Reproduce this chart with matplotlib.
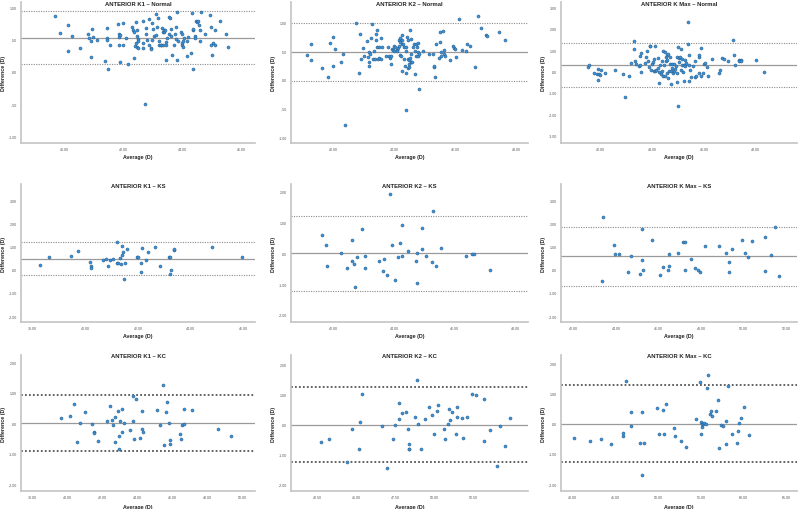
import matplotlib
matplotlib.use("Agg")
import matplotlib.pyplot as plt
import numpy as np
from matplotlib.ticker import FuncFormatter

plt.rcParams['font.family'] = ['Liberation Sans', 'DejaVu Sans']

# ---- data (average, difference) ----
k1_normal_avg = [39.69, 39.85, 40.12, 40.12, 40.27, 40.54, 40.82, 40.83, 40.90, 40.93, 40.91, 40.99, 41.11,
                 41.40, 41.47, 41.46, 41.47, 41.48, 41.54, 41.82, 41.85, 41.85, 41.85, 41.89, 41.90, 41.98,
                 41.99, 42.09, 42.16, 42.31, 42.34, 42.36, 42.36, 42.39, 42.43, 42.45, 42.47, 42.47, 42.47,
                 42.49, 42.51, 42.51, 42.66, 42.66, 42.67, 42.78, 42.79, 42.81, 42.87, 42.89, 42.93, 42.94,
                 42.97, 42.99, 43.01, 43.04, 43.10, 43.11, 43.15, 43.19, 43.21, 43.22, 43.27, 43.30, 43.33,
                 43.34, 43.35, 43.37, 43.39, 43.43, 43.44, 43.46, 43.47, 43.49, 43.54, 43.57, 43.60, 43.63,
                 43.64, 43.66, 43.71, 43.75, 43.79, 43.80, 43.82, 43.84, 43.87, 43.97, 43.98, 44.00, 44.00,
                 44.02, 44.03, 44.07, 44.16, 44.17, 44.19, 44.29, 44.35, 44.36, 44.36, 44.38, 44.42, 44.44,
                 44.47, 44.49, 44.53, 44.58, 44.61, 44.62, 44.63, 44.76, 44.96, 44.97, 44.98, 45.01, 45.06,
                 45.11, 45.12, 45.28, 45.48, 45.56, 42.73]
k1_normal_diff = [0.86, 0.60, 0.72, 0.32, 0.55, 0.37, 0.58, 0.53, 0.48, 0.66, 0.23, 0.54, 0.49,
                  0.17, 0.68, 0.53, 0.49, 0.05, 0.41, 0.74, 0.58, 0.54, 0.42, 0.57, 0.15, 0.76,
                  0.42, 0.52, 0.12, 0.70, 0.65, 0.62, 0.22, 0.40, 0.77, 0.45, 0.39, 0.64, 0.55,
                  0.51, 0.47, 0.37, 0.44, 0.37, 0.79, 0.68, 0.58, 0.50, 0.42, 0.81, 0.37, 0.35,
                  0.50, 0.76, 0.66, 0.55, 0.57, 0.90, 0.70, 0.84, 0.42, 0.48, 0.41, 0.42, 0.68,
                  0.41, 0.61, 0.62, 0.65, 0.64, 0.46, 0.41, 0.19, 0.52, 0.59, 0.85, 0.84, 0.66,
                  0.55, 0.26, 0.41, 0.59, 0.51, 0.69, 0.93, 0.19, 0.47, 0.62, 0.42, 0.58, 0.44,
                  0.47, 0.38, 0.52, 0.47, 0.24, 0.54, 0.29, 0.91, 0.65, 0.04, 0.66, 0.56, 0.52,
                  0.79, 0.77, 0.78, 0.72, 0.64, 0.48, 0.92, 0.58, 0.88, 0.70, 0.41, 0.26, 0.45,
                  0.64, 0.42, 0.78, 0.58, 0.38, -0.49]

k2_normal_avg = [41.13, 41.28, 41.28, 41.64, 41.84, 41.88, 41.99, 41.99, 42.05, 42.26, 42.32, 42.39, 42.75,
                 42.84, 42.86, 42.90, 42.98, 43.01, 43.10, 43.14, 43.16, 43.17, 43.18, 43.19, 43.23, 43.27,
                 43.29, 43.33, 43.37, 43.40, 43.41, 43.43, 43.43, 43.48, 43.50, 43.51, 43.56, 43.58, 43.60,
                 43.73, 43.78, 43.83, 43.87, 43.88, 43.89, 43.93, 43.96, 43.99, 44.00, 44.04, 44.08, 44.10,
                 44.13, 44.15, 44.17, 44.19, 44.20, 44.20, 44.22, 44.24, 44.26, 44.27, 44.27, 44.30, 44.31,
                 44.33, 44.35, 44.38, 44.39, 44.39, 44.40, 44.42, 44.44, 44.45, 44.46, 44.48, 44.49, 44.50,
                 44.51, 44.52, 44.54, 44.55, 44.56, 44.59, 44.62, 44.64, 44.68, 44.69, 44.70, 44.71, 44.73,
                 44.77, 44.78, 44.79, 44.81, 44.82, 44.95, 45.14, 45.28, 45.30, 45.32, 45.33, 45.37, 45.46,
                 45.49, 45.50, 45.53, 45.55, 45.61, 45.62, 45.64, 45.66, 45.84, 45.93, 45.97, 45.98, 46.03,
                 46.12, 46.23, 46.36, 46.40, 46.49, 46.64, 46.75, 46.86, 47.02, 47.04, 47.44, 47.65]
k2_normal_diff = [0.43, 0.62, 0.34, 0.20, 0.06, 0.64, 0.75, 0.24, 0.54, 0.32, 0.46, -0.79, 0.99,
                  0.12, 0.81, 0.36, 0.56, 0.42, 0.68, 0.40, 0.31, 0.24, 0.48, 0.45, 0.73, 0.97,
                  0.37, 0.51, 0.37, 0.81, 0.70, 0.58, 0.88, 0.37, 0.57, 0.38, 0.37, 0.74, 0.57,
                  0.42, 0.58, 0.42, 0.39, 0.28, 0.41, 0.54, 0.52, 0.59, 0.51, 0.58, 0.52, 0.51,
                  0.56, 0.69, 0.60, 0.74, 0.67, 0.43, 0.41, 0.79, 0.62, 0.69, 0.16, 0.63, 0.37,
                  0.57, 0.24, 0.51, 0.12, -0.52, 0.58, 0.75, 0.69, 0.20, 0.36, 0.22, 0.35, 0.27,
                  0.88, 0.38, 0.45, 0.71, 0.31, 0.31, 0.57, 0.63, 0.50, 0.11, 0.41, 0.63, 0.57,
                  0.64, 0.48, 0.41, 0.45, -0.16, 0.51, 0.45, 0.45, 0.22, 0.25, 0.06, 0.63, 0.38,
                  0.84, 0.67, 0.48, 0.41, 0.85, 0.52, 0.45, 0.42, 0.34, 0.60, 0.56, 0.54, 0.40,
                  1.07, 0.52, 0.51, 0.63, 0.59, 0.22, 1.11, 0.90, 0.79, 0.76, 0.83, 0.69]

kmax_normal_avg = [41.51, 41.56, 41.74, 41.87, 41.90, 41.91, 41.94, 41.97, 42.03, 42.18, 42.55, 42.86, 42.96,
                   43.09, 43.16, 43.30, 43.31, 43.35, 43.39, 43.47, 43.51, 43.52, 43.56, 43.57, 43.71, 43.77,
                   43.78, 43.84, 43.86, 43.90, 43.92, 43.96, 43.99, 44.03, 44.05, 44.06, 44.09, 44.12, 44.16,
                   44.21, 44.23, 44.25, 44.27, 44.31, 44.32, 44.36, 44.39, 44.42, 44.43, 44.45, 44.48, 44.51,
                   44.52, 44.55, 44.56, 44.57, 44.58, 44.60, 44.61, 44.65, 44.68, 44.70, 44.73, 44.74, 44.77,
                   44.78, 44.82, 44.83, 44.86, 44.88, 44.91, 44.94, 44.95, 44.96, 44.99, 45.00, 45.03, 45.05,
                   45.08, 45.12, 45.13, 45.14, 45.16, 45.18, 45.21, 45.23, 45.26, 45.27, 45.31, 45.38, 45.39,
                   45.42, 45.43, 45.44, 45.47, 45.49, 45.56, 45.64, 45.66, 45.71, 45.79, 45.81, 45.82, 45.87,
                   45.90, 45.96, 46.00, 46.03, 46.13, 46.16, 46.30, 46.58, 46.64, 46.68, 46.78, 46.92, 47.12,
                   47.18, 47.21, 47.34, 47.36, 47.42, 47.45, 48.01, 48.32]
kmax_normal_diff = [0.21, 0.30, -0.08, -0.11, 0.10, -0.39, -0.13, -0.16, 0.05, -0.08, 0.05, -0.11, -1.18,
                    -0.20, 0.41, 1.05, 1.43, 0.49, 0.33, 0.26, 0.72, 0.30, 0.85, -0.03, 0.39, 0.66,
                    0.95, 0.51, 0.21, 1.18, 1.21, 0.05, 0.36, 0.46, 0.03, 0.57, 0.03, 1.18, 0.05,
                    0.62, 0.16, -0.54, -0.03, 0.30, -0.11, 0.49, 0.02, 0.98, -0.23, 0.31, -0.23, 0.93,
                    0.70, 0.48, 0.56, -0.05, 0.79, 0.84, -0.31, 0.03, 0.34, 0.69, -0.57, 0.02, 0.36,
                    0.15, -0.07, 0.36, 0.03, 0.13, 0.26, 0.69, -0.05, -0.51, 1.13, -1.62, 0.46, 0.62,
                    0.70, 0.07, 1.03, 0.57, 0.30, -0.03, -0.46, 0.30, 0.56, 0.26, 0.38, 2.31, 1.30,
                    0.79, 0.30, -0.44, 0.05, -0.25, 0.25, -0.26, 0.49, -0.20, 0.70, 0.79, -0.07, 1.10,
                    -0.20, -0.08, 0.33, 0.38, 0.21, -0.21, 0.57, -0.08, 0.08, 0.64, 0.59, 0.49, 1.49,
                    0.79, 0.31, 0.56, 0.49, 0.54, 0.51, 0.52, 0.00]

k1_ks_avg = [38.27, 38.61, 39.47, 39.72, 40.19, 40.20, 40.20, 40.68, 40.78, 40.86, 40.92, 41.06, 41.19, 41.22,
             41.25, 41.30, 41.34, 41.38, 41.41, 41.42, 41.46, 41.52, 41.59, 41.95, 41.99, 42.10, 42.13, 42.14,
             42.29, 42.38, 42.66, 42.82, 43.18, 43.22, 43.20, 43.24, 43.38, 43.38, 44.82, 45.96]
k1_ks_diff = [0.20, 0.55, 0.62, 0.84, 0.35, 0.15, 0.09, 0.45, 0.46, 0.15, 0.45, 0.46, 1.20, 0.28,
              0.30, 0.53, 0.26, 0.66, 1.04, 0.78, -0.38, 0.31, 0.92, 0.54, 0.54, 0.28, -0.11, 0.96,
              0.42, 0.78, 0.99, 0.16, 0.57, 0.55, -0.16, 0.00, 0.85, 0.93, 1.01, 0.57]

k2_ks_avg = [41.62, 41.75, 41.78, 42.25, 42.45, 42.61, 42.61, 42.68, 42.71, 42.79, 42.94, 43.03, 43.04, 43.52,
             43.64, 43.66, 43.78, 43.88, 43.95, 44.03, 44.14, 44.20, 44.26, 44.25, 44.46, 44.74, 44.76, 44.77,
             44.91, 44.91, 45.06, 45.26, 45.27, 45.39, 45.54, 46.38, 46.57, 46.63, 47.16]
k2_ks_diff = [0.61, 0.26, -0.41, 0.00, -0.48, 0.43, -0.25, -0.33, -1.09, -0.12, 0.79, -0.07, -0.48, -0.24,
              -0.57, -0.18, -0.70, 1.93, 0.26, -0.86, -0.12, 0.33, 0.92, -0.09, 0.07, -0.26, 0.01, -0.97,
              0.84, 0.13, -0.08, -0.27, 1.37, -0.41, 0.17, -0.07, -0.03, -0.03, -0.54]

kmax_ks_avg = [43.38, 43.36, 43.90, 43.94, 44.15, 44.57, 44.71, 45.23, 45.24, 45.29, 45.15, 45.71, 46.06, 46.21,
               46.44, 46.47, 46.47, 46.92, 47.17, 47.23, 47.25, 47.51, 47.69, 47.84, 47.94, 48.18, 48.85, 49.19,
               49.29, 49.33, 49.47, 49.90, 50.04, 50.20, 50.40, 50.98, 50.98, 51.26, 51.45, 51.65]
kmax_ks_diff = [2.31, -0.47, 1.08, 0.68, 0.69, -0.08, 0.61, 0.41, 1.76, 0.01, -0.19, 1.31, -0.20, 0.11,
                -0.01, 0.15, 0.68, 0.73, 1.20, 1.22, 0.00, 0.47, 0.07, -0.01, -0.09, 1.03, 1.05, 0.72,
                -0.11, 0.35, 0.89, 1.28, 0.74, 0.57, 1.26, 1.43, -0.03, 0.65, 1.86, -0.27]

k1_kc_avg = [39.64, 40.17, 40.38, 40.58, 40.72, 41.02, 41.38, 41.51, 41.53, 41.77, 42.26, 42.43, 42.55, 42.60,
             42.72, 42.74, 42.91, 42.94, 42.96, 42.98, 43.09, 43.09, 43.23, 43.55, 43.74, 43.75, 43.83, 43.89,
             44.17, 44.26, 44.28, 44.30, 45.13, 45.26, 45.47, 45.51, 45.64, 45.70, 45.81, 45.85, 45.87, 46.43,
             46.47, 46.53, 46.66, 46.68, 47.09, 48.58, 49.32]
k1_kc_diff = [0.16, 0.24, 0.63, -0.62, 0.02, 0.38, -0.01, -0.28, -0.33, -0.58, 0.07, 0.56, 0.10, -0.07,
              0.20, -0.61, 0.39, -0.40, -0.83, 0.08, 0.48, -0.28, 0.00, -0.21, 0.88, 0.06, -0.53, 0.80,
              -0.47, 0.39, -0.18, -0.29, 0.43, -0.04, 1.27, -0.71, 0.37, 0.71, 0.02, -0.56, -0.69, -0.36,
              -0.51, -0.04, -0.03, 0.46, 0.42, -0.20, -0.40]

k2_kc_avg = [42.69, 43.19, 44.39, 44.69, 45.14, 45.23, 45.33, 46.62, 47.33, 47.48, 46.94, 47.69, 47.74, 47.89,
             48.19, 48.27, 48.36, 48.36, 48.36, 48.74, 48.87, 48.96, 49.11, 49.37, 49.67, 49.82, 49.97, 50.18,
             50.21, 50.63, 50.66, 50.89, 50.91, 50.98, 51.13, 51.38, 51.43, 51.45, 51.73, 51.83, 52.09, 52.39,
             52.65, 53.17, 53.17, 53.57, 53.98, 54.17, 54.52, 54.82]
k2_kc_diff = [-0.57, -0.47, -1.25, -0.13, -0.79, 0.09, 1.03, -0.05, -0.47, 0.00, -1.42, 0.73, 0.20, 0.40,
              0.41, -0.13, -0.64, -0.79, -0.82, 0.25, 1.50, 0.02, -0.80, 0.20, 0.59, 0.33, -0.30, 0.46,
              0.67, -0.14, -0.47, 0.02, 0.54, 0.17, 0.43, -0.30, 0.60, 0.26, 0.21, -0.45, 0.27, 1.04,
              0.99, 0.87, -0.53, -0.18, -1.38, -0.03, -0.70, 0.22]

kmax_kc_avg = [40.20, 42.03, 43.32, 44.49, 45.90, 45.94, 46.21, 46.80, 46.84, 47.93, 48.13, 48.40, 49.84, 50.08,
               50.55, 50.70, 50.94, 51.88, 52.03, 52.66, 53.28, 54.45, 54.96, 55.00, 55.08, 55.16, 55.23, 55.39,
               55.55, 54.88, 55.74, 55.78, 56.02, 56.13, 56.33, 56.72, 56.95, 57.07, 57.38, 57.58, 57.89, 57.97,
               58.16, 58.63, 59.22, 59.38, 59.41, 59.69, 60.04, 60.63, 48.13]
kmax_kc_diff = [-0.46, -0.58, -0.49, -0.68, -0.41, -0.32, 1.43, 0.38, -0.09, -0.63, 0.38, -0.63, 0.51, -0.35,
                0.46, -0.35, 0.67, -0.14, -0.39, -0.58, -0.78, 0.15, -0.34, 0.05, -0.11, -0.01, 0.00, 0.02,
                -0.02, 1.37, 1.17, 1.62, 0.33, 0.41, 0.26, 0.42, 0.78, -0.82, -0.03, -0.08, -0.67, 0.09,
                1.25, -0.33, -0.63, -0.23, 0.01, 0.18, 0.57, -0.38, -1.70]

titles = ["ANTERIOR K1 \u2013 Normal", "ANTERIOR K2 \u2013 Normal", "ANTERIOR K Max \u2013 Normal",
          "ANTERIOR K1 \u2013 KS", "ANTERIOR K2 \u2013 KS", "ANTERIOR K Max \u2013 KS",
          "ANTERIOR K1 \u2013 KC", "ANTERIOR K2 \u2013 KC", "ANTERIOR K Max \u2013 KC"]

# mean difference, upper and lower limits of agreement
mean_diff = [0.526, 0.49, 0.30, 0.49, 0.00, 0.61, 0.00, 0.00, 0.00]
upper_loa = [0.937, 0.99, 1.33, 1.20, 1.21, 1.88, 0.92, 1.25, 1.29]
lower_loa = [0.116, -0.01, -0.74, -0.23, -1.21, -0.69, -0.92, -1.25, -1.26]

avgs = [k1_normal_avg, k2_normal_avg, kmax_normal_avg, k1_ks_avg, k2_ks_avg, kmax_ks_avg,
        k1_kc_avg, k2_kc_avg, kmax_kc_avg]
diffs = [k1_normal_diff, k2_normal_diff, kmax_normal_diff, k1_ks_diff, k2_ks_diff, kmax_ks_diff,
         k1_kc_diff, k2_kc_diff, kmax_kc_diff]

# axis scales per panel
xlims = [(38.54, 46.47), (40.61, 48.39), (40.47, 49.6), (37.56, 46.44), (40.61, 48.41),
         (41.42, 52.5), (37.36, 50.70), (40.78, 56.0), (38.63, 66.25)]
ylims = [(-1.10, 1.08), (-1.10, 1.36), (-3.34, 3.25), (-2.26, 3.73), (-2.23, 2.26),
         (-2.26, 3.73), (-2.22, 2.24), (-2.20, 2.32), (-2.23, 2.28)]
xticks = [np.arange(40, 47, 2), np.arange(42, 49, 2), np.arange(42, 49, 2), np.arange(38, 47, 2),
          np.arange(42, 49, 2), np.arange(42, 53, 2), np.arange(38, 51, 2), np.arange(42.5, 53, 2.5),
          np.arange(40, 66, 5)]
yticks = [np.arange(-1, 1.01, 0.5), np.arange(-1, 1.01, 0.5), np.arange(-3, 3.1, 1), np.arange(-2, 3.1, 1),
          np.arange(-2, 2.1, 1), np.arange(-2, 3.1, 1), np.arange(-2, 2.1, 1), np.arange(-2, 2.1, 1),
          np.arange(-2, 2.1, 1)]


def spss_fmt(v, pos=None):
    s = f"{v:.2f}"
    if s.startswith("0."):
        s = s[1:]
    elif s.startswith("-0."):
        s = "-" + s[2:]
    if s == "-.00":
        s = ".00"
    return s


W, H = 798, 510
fig = plt.figure(figsize=(W / 100, H / 100), dpi=100)

col_x = [(21, 255), (291, 528), (561, 797)]
row_y = [(3, 144), (185, 323), (356, 492)]
xlab_off = [11.5, 11.0, 13.0]

for i in range(9):
    r, c = divmod(i, 3)
    x0, x1 = col_x[c]
    y0, y1 = row_y[r]
    w, h = x1 - x0, y1 - y0
    ax = fig.add_axes([x0 / W, 1 - y1 / H, w / W, h / H])

    lw_loa = 1.3 if r == 2 else 0.8
    col_loa = '#555555' if r == 2 else '#8a8a8a'
    ax.axhline(mean_diff[i], color='#9a9a9a', lw=0.9, zorder=1)
    ax.axhline(upper_loa[i], color=col_loa, lw=lw_loa, ls=(0, (1, 1.2)), zorder=1)
    ax.axhline(lower_loa[i], color=col_loa, lw=lw_loa, ls=(0, (1, 1.2)), zorder=1)

    ax.scatter(avgs[i], diffs[i], s=5, color='#3d93d6', edgecolors='#1f4f7a', linewidths=0.3, zorder=3)

    ax.set_xlim(*xlims[i])
    ax.set_ylim(*ylims[i])
    ax.set_xticks(xticks[i])
    ax.set_yticks(yticks[i])
    ax.xaxis.set_major_formatter(FuncFormatter(spss_fmt))
    ax.yaxis.set_major_formatter(FuncFormatter(spss_fmt))
    ax.tick_params(length=0, labelsize=2.6, labelcolor='#555555', pad=3)

    for sp in ['top', 'right']:
        ax.spines[sp].set_visible(False)
    for sp in ['left', 'bottom']:
        ax.spines[sp].set_color('#c4c4c4')
        ax.spines[sp].set_linewidth(1.2)

    ax.text(0.5, 1.0 - 1.0 / h, titles[i], transform=ax.transAxes, ha='center', va='center',
            fontsize=4.2, fontweight='bold', color='#222222')
    ax.set_xlabel("Average (D)", fontsize=3.8, fontweight='bold', color='#222222')
    ax.set_ylabel("Difference (D)", fontsize=3.8, fontweight='bold', color='#222222')
    ax.xaxis.set_label_coords(0.5, -xlab_off[r] / h)
    ax.yaxis.set_label_coords(-15.0 / w, 0.5)

fig.savefig("out.png", dpi=100)
